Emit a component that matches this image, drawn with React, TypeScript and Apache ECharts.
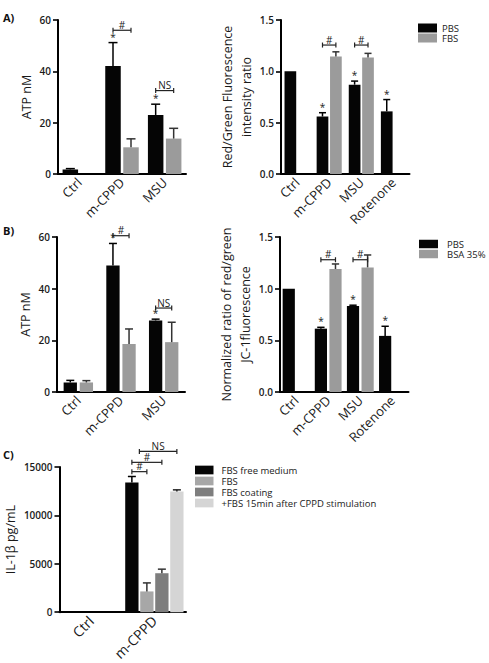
import React, { useEffect, useRef } from "react";
import * as echarts from "echarts";

// ---- categories ----
const atpCats = ["Ctrl", "m-CPPD", "MSU"];
const ratioCats = ["Ctrl", "m-CPPD", "MSU", "Rotenone"];
const il1Cats = ["Ctrl", "m-CPPD"];

// ---- y tick values ----
const atpTicks = [0, 20, 40, 60];
const ratioTicks = [0, 0.5, 1.0, 1.5];
const il1Ticks = [0, 5000, 10000, 15000];

// ---- A) ATP release, PBS vs FBS ----
const atpA_PBS = [1.8, 42.1, 23.0];
const atpA_PBS_sem = [0.3, 9.1, 4.2];
const atpA_FBS = [null, 10.4, 13.8];
const atpA_FBS_sem = [null, 3.3, 4.0];
const atpA_star = [false, true, true];

// ---- A) JC-1 red/green ratio, PBS vs FBS ----
const ratioA_PBS = [1.0, 0.56, 0.87, 0.61];
const ratioA_PBS_sem = [null, 0.037, 0.035, 0.115];
const ratioA_FBS = [null, 1.145, 1.135, null];
const ratioA_FBS_sem = [null, 0.045, 0.04, null];
const ratioA_star = [false, true, true, true];

// ---- B) ATP release, PBS vs BSA 35% ----
const atpB_PBS = [3.7, 49.0, 27.7];
const atpB_PBS_sem = [0.8, 8.5, 0.5];
const atpB_BSA = [3.7, 18.6, 19.3];
const atpB_BSA_sem = [0.7, 5.8, 7.7];
const atpB_star = [false, true, true];

// ---- B) normalized JC-1 ratio, PBS vs BSA 35% ----
const ratioB_PBS = [1.0, 0.613, 0.832, 0.543];
const ratioB_PBS_sem = [null, 0.013, 0.008, 0.093];
const ratioB_BSA = [null, 1.19, 1.206, null];
const ratioB_BSA_sem = [null, 0.049, 0.12, null];
const ratioB_star = [false, true, true, true];

// ---- C) IL-1β secretion ----
const il1_free = [null, 13400];
const il1_free_sem = [null, 620];
const il1_fbs = [null, 2150];
const il1_fbs_sem = [null, 880];
const il1_coat = [null, 4030];
const il1_coat_sem = [null, 420];
const il1_after = [null, 12480];
const il1_after_sem = [null, 160];

// ---- significance brackets (category, height in data units, bar span, label) ----
const atpA_brackets = [
  { cat: 1, y: 56, from: 0, to: 1, label: "#" },
  { cat: 2, y: 32.5, from: 0, to: 1, label: "NS" },
];
const ratioA_brackets = [
  { cat: 1, y: 1.256, from: 0, to: 1, label: "#" },
  { cat: 2, y: 1.256, from: 0, to: 1, label: "#" },
];
const atpB_brackets = [
  { cat: 1, y: 60.5, from: 0, to: 1, label: "#" },
  { cat: 2, y: 32.5, from: 0, to: 1, label: "NS" },
];
const ratioB_brackets = [
  { cat: 1, y: 1.28, from: 0, to: 1, label: "#" },
  { cat: 2, y: 1.28, from: 0, to: 1, label: "#" },
];
const il1_brackets = [
  { cat: 1, y: 14520, from: 0, to: 1, label: "#" },
  { cat: 1, y: 15480, from: 0, to: 2, label: "#" },
  { cat: 1, y: 16610, from: 0.5, to: 3, label: "NS" },
];

const FONT = '"Open Sans", "DejaVu Sans", sans-serif';
const INK = "#1a1a1a";
const BLACK = "#050505";
const GRAY = "#9b9b9b";

type Panel = {
  grid: { left: number; top: number; width: number; height: number };
  cats: string[];
  ticks: number[];
  decimals: number;
  yName: string;
  nameGap: number;
  xFont: number;
  barWidth: number;
  gap: number;
  bars: { name: string; color: string; errColor: string; values: (number | null)[]; sem: (number | null)[]; stars?: boolean[] }[];
  brackets: { cat: number; y: number; from: number; to: number; label: string }[];
};

const panels: Panel[] = [
  {
    grid: { left: 58, top: 20, width: 128, height: 154 },
    cats: atpCats, ticks: atpTicks, decimals: 0, yName: "ATP nM", nameGap: 18, xFont: 13,
    barWidth: 15.5, gap: 2.5,
    bars: [
      { name: "PBS", color: BLACK, errColor: "#000", values: atpA_PBS, sem: atpA_PBS_sem, stars: atpA_star },
      { name: "FBS", color: GRAY, errColor: "#333", values: atpA_FBS, sem: atpA_FBS_sem },
    ],
    brackets: atpA_brackets,
  },
  {
    grid: { left: 281, top: 20, width: 128.5, height: 154 },
    cats: ratioCats, ticks: ratioTicks, decimals: 1,
    yName: "Red/Green Fluorescence\nintensity ratio", nameGap: 16, xFont: 13,
    barWidth: 11.7, gap: 1.7,
    bars: [
      { name: "PBS", color: BLACK, errColor: "#000", values: ratioA_PBS, sem: ratioA_PBS_sem, stars: ratioA_star },
      { name: "FBS", color: GRAY, errColor: "#333", values: ratioA_FBS, sem: ratioA_FBS_sem },
    ],
    brackets: ratioA_brackets,
  },
  {
    grid: { left: 57, top: 237, width: 128, height: 155 },
    cats: atpCats, ticks: atpTicks, decimals: 0, yName: "ATP nM", nameGap: 18, xFont: 13,
    barWidth: 13.3, gap: 2.8,
    bars: [
      { name: "PBS", color: BLACK, errColor: "#000", values: atpB_PBS, sem: atpB_PBS_sem, stars: atpB_star },
      { name: "BSA 35%", color: GRAY, errColor: "#333", values: atpB_BSA, sem: atpB_BSA_sem },
    ],
    brackets: atpB_brackets,
  },
  {
    grid: { left: 280, top: 237, width: 128.5, height: 155 },
    cats: ratioCats, ticks: ratioTicks, decimals: 1,
    yName: "Normalized ratio of red/green\nJC-1fluorescence", nameGap: 15, xFont: 13,
    barWidth: 12.2, gap: 2.4,
    bars: [
      { name: "PBS", color: BLACK, errColor: "#000", values: ratioB_PBS, sem: ratioB_PBS_sem, stars: ratioB_star },
      { name: "BSA 35%", color: GRAY, errColor: "#333", values: ratioB_BSA, sem: ratioB_BSA_sem },
    ],
    brackets: ratioB_brackets,
  },
  {
    grid: { left: 58, top: 467, width: 128, height: 155 },
    cats: il1Cats, ticks: il1Ticks, decimals: 0, yName: "IL-1β pg/mL", nameGap: 34, xFont: 14,
    barWidth: 13.3, gap: 1.7,
    bars: [
      { name: "FBS free medium", color: BLACK, errColor: "#000", values: il1_free, sem: il1_free_sem },
      { name: "FBS ", color: "#a7a7a7", errColor: "#333", values: il1_fbs, sem: il1_fbs_sem },
      { name: "FBS coating", color: "#7e7e7e", errColor: "#333", values: il1_coat, sem: il1_coat_sem },
      { name: "+FBS 15min after CPPD stimulation", color: "#d5d5d5", errColor: "#222", values: il1_after, sem: il1_after_sem },
    ],
    brackets: il1_brackets,
  },
];

function textEl(x: number, y: number, text: string, size: number, align: string, vAlign: string, weight = "normal") {
  return {
    type: "text",
    x,
    y,
    silent: true,
    style: {
      text,
      font: `${weight} ${size}px ${FONT}`,
      fill: INK,
      align,
      verticalAlign: vAlign,
      textAlign: align,
      textVerticalAlign: vAlign,
    },
  };
}

function buildOption() {
  const grid: any[] = [];
  const xAxis: any[] = [];
  const yAxis: any[] = [];
  const series: any[] = [];

  panels.forEach((p, gi) => {
    grid.push({ ...p.grid, containLabel: false });
    xAxis.push({
      type: "category",
      gridIndex: gi,
      data: p.cats,
      axisLine: { lineStyle: { color: "#000", width: 2 } },
      axisTick: { alignWithLabel: true, length: 4, lineStyle: { color: "#000", width: 1.6 } },
      axisLabel: { rotate: 45, interval: 0, fontSize: p.xFont, color: INK, fontFamily: FONT, margin: 6 },
      splitLine: { show: false },
    });
    const tk = p.ticks;
    yAxis.push({
      type: "value",
      gridIndex: gi,
      min: tk[0],
      max: tk[tk.length - 1],
      interval: tk[1] - tk[0],
      name: p.yName,
      nameLocation: "middle",
      nameGap: p.nameGap,
      nameTextStyle: { fontSize: 12.5, color: INK, fontFamily: FONT, lineHeight: 19 },
      axisLine: { show: true, lineStyle: { color: "#000", width: 2 } },
      axisTick: { show: true, length: 5, lineStyle: { color: "#000", width: 1.6 } },
      axisLabel: {
        fontSize: 10,
        fontWeight: 600,
        color: INK,
        fontFamily: FONT,
        margin: 7,
        formatter: (v: number) => v.toFixed(p.decimals),
      },
      splitLine: { show: false },
    });

    const n = p.bars.length;
    const step = p.barWidth + p.gap;
    const mid = (n - 1) / 2;

    p.bars.forEach((b, bi) => {
      series.push({
        type: "bar",
        name: b.name,
        xAxisIndex: gi,
        yAxisIndex: gi,
        data: b.values,
        barWidth: p.barWidth,
        barGap: `${(p.gap / p.barWidth) * 100}%`,
        itemStyle: { color: b.color },
        z: 2,
      });

      // error bars (upper only) plus significance stars
      const items: any[] = [];
      b.values.forEach((v, i) => {
        if (v == null) return;
        const e = b.sem[i] == null ? 0 : (b.sem[i] as number);
        const star = b.stars && b.stars[i] ? 1 : 0;
        if (e > 0 || star) items.push([i, v, e, star]);
      });
      const cap = Math.min(9, p.barWidth * 0.6);
      series.push({
        type: "custom",
        name: b.name + " SEM",
        xAxisIndex: gi,
        yAxisIndex: gi,
        data: items,
        encode: { x: 0, y: 1 },
        silent: true,
        z: 3,
        renderItem: (params: any, api: any) => {
          const cat = api.value(0);
          const v = api.value(1);
          const e = api.value(2);
          const star = api.value(3);
          const base = api.coord([cat, v]);
          const top = api.coord([cat, v + e]);
          const x = base[0] + (bi - mid) * step;
          const children: any[] = [];
          if (e > 0) {
            children.push({
              type: "line",
              shape: { x1: x, y1: base[1], x2: x, y2: top[1] },
              style: { stroke: b.errColor, lineWidth: 1.5 },
            });
            children.push({
              type: "line",
              shape: { x1: x - cap / 2, y1: top[1], x2: x + cap / 2, y2: top[1] },
              style: { stroke: b.errColor, lineWidth: 1.5 },
            });
          }
          if (star) children.push(textEl(x, top[1] - 1, "*", 10, "center", "bottom"));
          return { type: "group", children };
        },
      });
    });

    // significance brackets
    const bData = p.brackets.map((br) => [br.cat, br.y, br.from, br.to]);
    series.push({
      type: "custom",
      name: "brackets",
      xAxisIndex: gi,
      yAxisIndex: gi,
      data: bData,
      encode: { x: 0, y: 1 },
      silent: true,
      clip: false,
      z: 4,
      renderItem: (params: any, api: any) => {
        const c = api.coord([api.value(0), api.value(1)]);
        const x1 = c[0] + (api.value(2) - mid) * step;
        const x2 = c[0] + (api.value(3) - mid) * step;
        const y = c[1];
        const ls = { stroke: "#222", lineWidth: 1.2 };
        return {
          type: "group",
          children: [
            { type: "line", shape: { x1, y1: y, x2, y2: y }, style: ls },
            { type: "line", shape: { x1, y1: y - 2.5, x2: x1, y2: y + 2.5 }, style: ls },
            { type: "line", shape: { x1: x2, y1: y - 2.5, x2, y2: y + 2.5 }, style: ls },
            textEl((x1 + x2) / 2, y - 0.5, p.brackets[params.dataIndex].label, 10, "center", "bottom"),
          ],
        };
      },
    });
  });

  const legendBase = {
    orient: "vertical",
    icon: "rect",
    selectedMode: false,
    padding: 0,
    itemWidth: 19,
    itemHeight: 9,
    itemGap: 0,
  };

  const legend = [
    {
      ...legendBase,
      left: 418,
      top: 23,
      textStyle: { fontSize: 9.5, color: INK, fontFamily: FONT, lineHeight: 9 },
      data: [
        { name: "PBS", itemStyle: { color: BLACK } },
        { name: "FBS", itemStyle: { color: GRAY } },
      ],
    },
    {
      ...legendBase,
      left: 419,
      top: 239,
      itemHeight: 8.5,
      textStyle: { fontSize: 9.5, color: INK, fontFamily: FONT, lineHeight: 8.5, padding: [0, 0, 0, 4] },
      data: [
        { name: "PBS", itemStyle: { color: BLACK } },
        { name: "BSA 35%", itemStyle: { color: GRAY } },
      ],
    },
    {
      ...legendBase,
      left: 195,
      top: 465,
      itemWidth: 18.5,
      itemHeight: 8.7,
      itemGap: 1,
      textStyle: { fontSize: 9.5, color: INK, fontFamily: FONT, lineHeight: 8.7, padding: [0, 0, 0, 3] },
      data: [
        { name: "FBS free medium", itemStyle: { color: BLACK } },
        { name: "FBS ", itemStyle: { color: "#a7a7a7" } },
        { name: "FBS coating", itemStyle: { color: "#7e7e7e" } },
        { name: "+FBS 15min after CPPD stimulation", itemStyle: { color: "#d5d5d5" } },
      ],
    },
  ];

  const graphic = [
    { type: "text", left: 3, top: 12, style: { text: "A)", font: `bold 11px ${FONT}`, fill: "#111" } },
    { type: "text", left: 3, top: 225, style: { text: "B)", font: `bold 11px ${FONT}`, fill: "#111" } },
    { type: "text", left: 3, top: 449, style: { text: "C)", font: `bold 11px ${FONT}`, fill: "#111" } },
  ];

  return {
    animation: false,
    backgroundColor: "#ffffff",
    textStyle: { fontFamily: FONT },
    grid,
    xAxis,
    yAxis,
    series,
    legend,
    graphic,
  };
}

export default function App() {
  const ref = useRef<HTMLDivElement>(null);
  useEffect(() => {
    if (!ref.current) return;
    const chart = echarts.init(ref.current, undefined, { renderer: "svg" });
    chart.setOption(buildOption() as any);
    return () => chart.dispose();
  }, []);
  return (
    <div
      ref={ref}
      style={{ position: "absolute", left: 0, top: 0, width: 489, height: 663, background: "#fff" }}
    />
  );
}
